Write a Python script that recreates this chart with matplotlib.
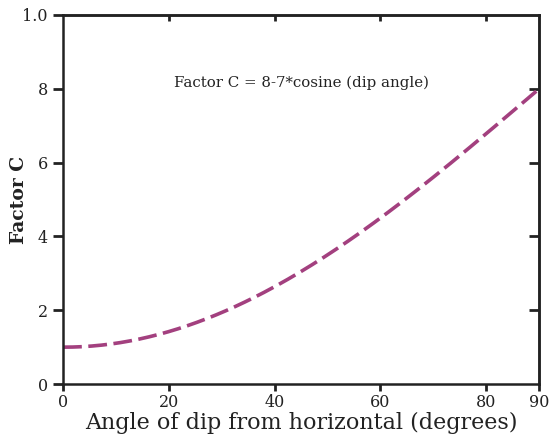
import numpy as np
from matplotlib import pyplot as plt

# Значения
angle = [0, 10, 20, 30, 40, 50, 60, 70, 80, 90]
factor_c = [1.0, 1.11, 1.42, 1.94, 2.64, 3.50, 4.50, 5.61, 6.78, 8.0]

x_ticks = [0, 20, 40, 60, 80, 90]
y_ticks = [0, 2, 4, 6, 8, 10]
y_tick_labels = ['0', '2', '4', '6', '8', '1.0']

plt.rcParams['font.family'] = ['DejaVu Serif']
ink = '#222222'

fig = plt.figure(figsize=(5.53, 4.38), dpi=100)
ax = fig.add_axes([0.114, 0.123, 0.861, 0.843])

# Плавная кривая через считанные точки
xs = np.linspace(0, 90, 200)
coef = np.polyfit(angle, factor_c, 4)
ys = np.polyval(coef, xs)

ax.plot(xs, ys, color='#a3407f', lw=2.6, dashes=(5.2, 1.8))

ax.set_xlim(0, 90)
ax.set_ylim(0, 10)
ax.set_xticks(x_ticks)
ax.set_yticks(y_ticks)
ax.set_yticklabels(y_tick_labels)
ax.tick_params(axis='both', labelsize=11.5, width=2, direction='out', colors=ink)
ax.tick_params(axis='x', length=5, pad=2)
ax.tick_params(axis='y', length=7, pad=4)

# Внутренние засечки сверху и справа
ax_top = ax.secondary_xaxis('top')
ax_top.set_xticks([20, 40, 60, 80])
ax_top.tick_params(direction='in', width=2, length=4.5, labeltop=False, colors=ink)
ax_right = ax.secondary_yaxis('right')
ax_right.set_yticks([2, 4, 6, 8])
ax_right.tick_params(direction='in', width=2, length=7, labelright=False, colors=ink)

for sp in ax.spines.values():
    sp.set_linewidth(1.8)
    sp.set_color(ink)
for a in (ax_top, ax_right):
    for sp in a.spines.values():
        sp.set_linewidth(1.8)
        sp.set_color(ink)

ax.set_xlabel('Angle of dip from horizontal (degrees)', fontsize=16, labelpad=1, color=ink)
ax.set_ylabel('Factor C', fontsize=13.5, fontweight='bold', color=ink)
ax.yaxis.set_label_coords(-0.073, 0.5)

ax.text(0.5, 0.815, 'Factor C = 8-7*cosine (dip angle)', transform=ax.transAxes,
        fontsize=10.8, ha='center', va='center', color=ink)

fig.savefig('out.png', dpi=100)
